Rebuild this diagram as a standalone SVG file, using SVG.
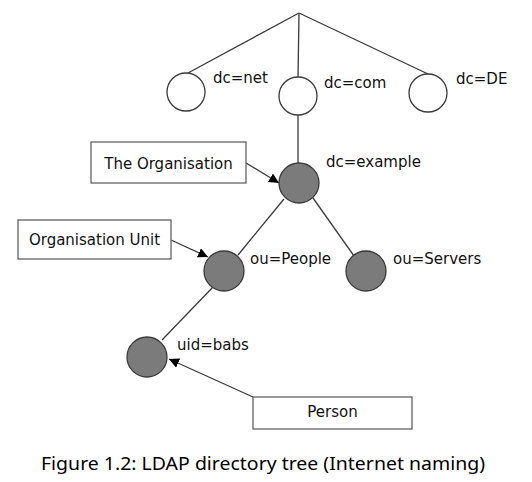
<svg xmlns="http://www.w3.org/2000/svg" width="532" height="482" viewBox="0 0 532 482">
<style>
.ln{stroke:#3a3a3a;stroke-width:1.3;fill:none}
.arr{stroke:#3a3a3a;stroke-width:1.3;fill:none;marker-end:url(#ah)}
.wc{fill:#fff;stroke:#3a3a3a;stroke-width:1.3}
.gc{fill:#7b7b7b;stroke:#3a3a3a;stroke-width:1.3}
.box{fill:#fff;stroke:#555;stroke-width:1.2}
.t{font-family:"DejaVu Sans",sans-serif;font-size:15px;fill:#111}
.cap{font-family:"Noto Sans","Open Sans",sans-serif;font-size:18px;fill:#000}
</style>
<defs>
<marker id="ah" viewBox="0 0 10 10" refX="10" refY="5" markerWidth="10" markerHeight="10" markerUnits="userSpaceOnUse" orient="auto">
<path d="M0,0 L10,5 L0,10 z" fill="#000"/>
</marker>
</defs>
<rect width="532" height="482" fill="#fff"/>
<g id="connectors">
<line class="ln" x1="299" y1="13" x2="188" y2="73"/>
<line class="ln" x1="299" y1="13" x2="298" y2="77"/>
<line class="ln" x1="299" y1="13" x2="428" y2="74"/>
<line class="ln" x1="298" y1="115" x2="298" y2="163"/>
<line class="ln" x1="284" y1="199" x2="238" y2="255"/>
<line class="ln" x1="313" y1="198" x2="354" y2="256"/>
<line class="ln" x1="213" y1="287" x2="162" y2="340"/>
<line class="arr" x1="246" y1="163" x2="279" y2="183"/>
<line class="arr" x1="171" y1="240" x2="208" y2="257"/>
<line class="arr" x1="253" y1="397" x2="169" y2="359"/>
</g>
<g id="dc-net"><circle class="wc" cx="186" cy="92" r="19"/><text class="t" x="213" y="83">dc=net</text></g>
<g id="dc-com"><circle class="wc" cx="298" cy="96" r="19"/><text class="t" x="324" y="88">dc=com</text></g>
<g id="dc-DE"><circle class="wc" cx="428" cy="93" r="19"/><text class="t" x="456" y="84">dc=DE</text></g>
<g id="dc-example"><circle class="gc" cx="299" cy="183" r="20"/><text class="t" x="326" y="167">dc=example</text></g>
<g id="ou-People"><circle class="gc" cx="224" cy="271" r="20"/><text class="t" x="250" y="264">ou=People</text></g>
<g id="ou-Servers"><circle class="gc" cx="366" cy="271" r="20"/><text class="t" x="393" y="264">ou=Servers</text></g>
<g id="uid-babs"><circle class="gc" cx="147" cy="357" r="20"/><text class="t" x="177" y="350">uid=babs</text></g>
<g id="box-org"><rect class="box" x="91" y="142" width="155" height="41"/><text class="t" x="168.5" y="169" text-anchor="middle">The Organisation</text></g>
<g id="box-ou"><rect class="box" x="18" y="220" width="153" height="39"/><text class="t" x="94.5" y="245" text-anchor="middle">Organisation Unit</text></g>
<g id="box-person"><rect class="box" x="253" y="397" width="159" height="32"/><text class="t" x="332.5" y="417" text-anchor="middle">Person</text></g>
<text class="cap" x="41" y="470" textLength="444" lengthAdjust="spacingAndGlyphs">Figure 1.2: LDAP directory tree (Internet naming)</text>
</svg>
